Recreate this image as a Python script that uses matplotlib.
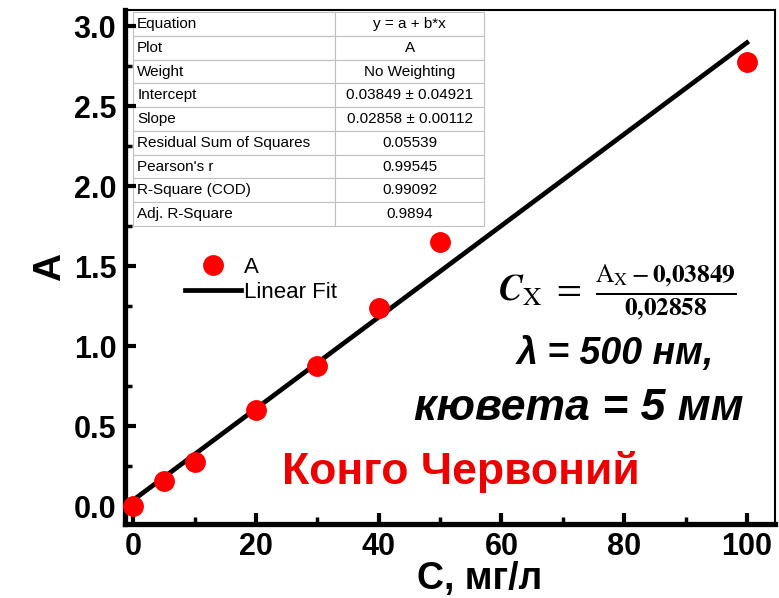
import matplotlib.pyplot as plt
from matplotlib.ticker import MultipleLocator
from matplotlib.lines import Line2D

plt.rcParams['mathtext.fontset'] = 'stix'

# data
conc = [0, 5, 10, 20, 30, 40, 50, 100]          # C, mg/l
absorb = [0.0, 0.155, 0.275, 0.60, 0.875, 1.24, 1.65, 2.775]  # A

intercept = 0.03849
slope = 0.02858

table_rows = [
    ["Equation", "y = a + b*x"],
    ["Plot", "A"],
    ["Weight", "No Weighting"],
    ["Intercept", "0.03849 \u00b1 0.04921"],
    ["Slope", "0.02858 \u00b1 0.00112"],
    ["Residual Sum of Squares", "0.05539"],
    ["Pearson's r", "0.99545"],
    ["R-Square (COD)", "0.99092"],
    ["Adj. R-Square", "0.9894"],
]

arial = ['Liberation Sans', 'DejaVu Sans']

fig = plt.figure(figsize=(7.79, 5.98), dpi=100)
ax = fig.add_axes([0.160, 0.124, 0.835, 0.859])

# fit line
fit_x = [0, 100]
fit_y = [intercept + slope * v for v in fit_x]
ax.plot(fit_x, fit_y, color='black', lw=3.4, zorder=2)
ax.plot(conc, absorb, 'o', color='#ff0000', ms=14, mec='#ff0000', zorder=3, clip_on=False)

ax.set_xlim(-1.4, 104.6)
ax.set_ylim(-0.11, 3.10)
ax.xaxis.set_major_locator(MultipleLocator(20))
ax.xaxis.set_minor_locator(MultipleLocator(10))
ax.yaxis.set_major_locator(MultipleLocator(0.5))
ax.yaxis.set_minor_locator(MultipleLocator(0.25))
ax.tick_params(which='major', direction='in', length=8, width=3, pad=6)
ax.tick_params(which='minor', direction='in', length=5, width=2.5)
for lab in ax.get_xticklabels() + ax.get_yticklabels():
    lab.set_fontfamily(arial)
    lab.set_fontweight('bold')
    lab.set_fontsize(22)

ax.spines['left'].set_linewidth(3.8)
ax.spines['bottom'].set_linewidth(3.8)
ax.spines['top'].set_linewidth(1.5)
ax.spines['right'].set_linewidth(1.5)

ax.set_xlabel('С, мг/л', family=arial, fontweight='bold', fontsize=27)
ax.xaxis.set_label_coords(0.546, -0.072, transform=ax.transAxes)
ax.xaxis.label.set_va('top')
ax.set_ylabel('A', family=arial, fontweight='bold', fontsize=28, labelpad=4)

# statistics table
tbl = ax.table(cellText=table_rows, cellLoc='center', colWidths=[0.575, 0.425],
               bbox=[0.013, 0.58, 0.54, 0.416])
tbl.auto_set_font_size(False)
for (r, c), cell in tbl.get_celld().items():
    cell.set_edgecolor('#c0c0c0')
    cell.set_linewidth(0.8)
    cell.get_text().set_fontsize(11)
    cell.get_text().set_fontfamily(arial)
    if c == 0:
        cell.get_text().set_ha('left')
        cell.PAD = 0.02

# legend
handles = [
    Line2D([], [], ls='none', marker='o', color='#ff0000', ms=14),
    Line2D([], [], color='black', lw=3.4),
]
ax.legend(handles, ['A', 'Linear Fit'], loc='upper left', bbox_to_anchor=(0.093, 0.52),
          frameon=False, prop={'family': arial, 'size': 16}, handlelength=2.5,
          handletextpad=0.13, borderaxespad=0, borderpad=0, labelspacing=0.2)

# annotations
ax.text(0.757, 0.45, r'$\mathbfit{C}_{\mathrm{X}}\ =\ \frac{\mathrm{A_X}-\mathbf{0{,}03849}}{\mathbf{0{,}02858}}$',
        transform=ax.transAxes, fontsize=26, ha='center', va='center')
ax.text(0.755, 0.33, 'λ = 500 нм,', transform=ax.transAxes, family=arial,
        fontweight='bold', fontstyle='italic', fontsize=27, ha='center', va='center')
ax.text(0.698, 0.225, 'кювета = 5 мм', transform=ax.transAxes, family=arial,
        fontweight='bold', fontstyle='italic', fontsize=32, ha='center', va='center')
ax.text(0.517, 0.10, 'Конго Червоний', transform=ax.transAxes, family=arial,
        fontweight='bold', color='#ee0000', fontsize=32, ha='center', va='center')

fig.savefig('out.png', dpi=100)
